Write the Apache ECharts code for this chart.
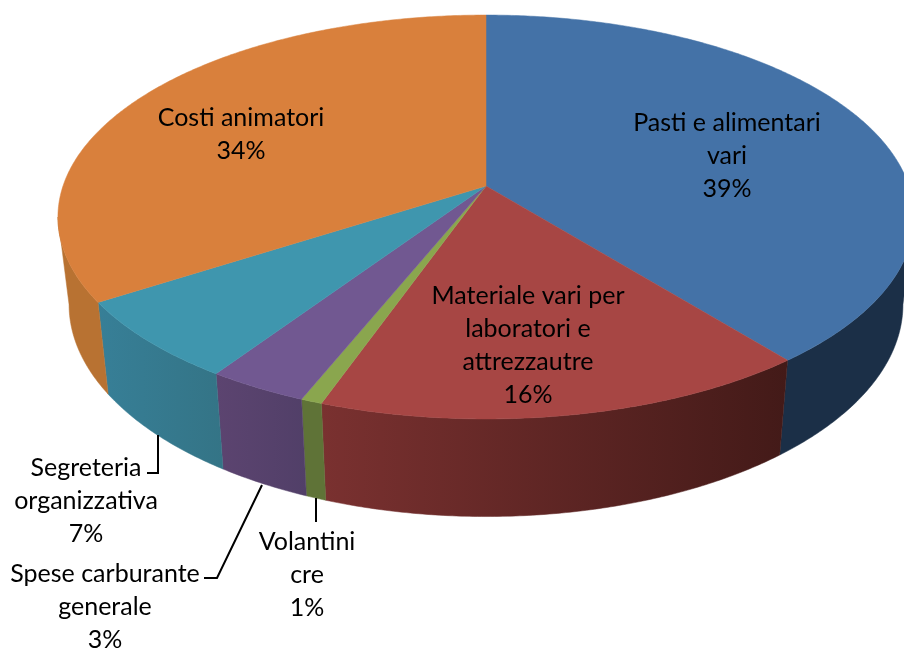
<!DOCTYPE html>
<html>
<head>
<meta charset="utf-8">
<title>Costi</title>
<style>
  html, body { margin: 0; padding: 0; background: #fff; }
  #chart { width: 904px; height: 648px; }
</style>
<script src="https://cdn.jsdelivr.net/npm/echarts@6/dist/echarts.min.js"></script>
</head>
<body>
<div id="chart"></div>
<script>
// clockwise from 12 o'clock
var categories = ['Pasti e alimentari\nvari', 'Materiale vari per\nlaboratori e\nattrezzautre', 'Volantini\ncre', 'Spese carburante\ngenerale', 'Segreteria\norganizzativa', 'Costi animatori'];
var values = [39.2, 16.2, 0.7, 3.3, 6.5, 34.1];

var topColors = ['#4472a7', '#a74644', '#8aa64e', '#715891', '#3f96ae', '#d9803c'];
var wallColors = [
  ['#1b2f47', '#1b2f47'],
  ['#7a3130', '#431a18'],
  ['#5f7337', '#5f7337'],
  ['#5c4470', '#513f68'],
  ['#377f97', '#347486'],
  ['#b87232', '#b87232']
];

var labelX = [727, 528, 307, 105, 86, 241];
var labelY = [156, 345, 574.5, 606.5, 500.5, 134.5];

var leaders = [
  [[158, 435], [158, 473], [147, 473]],
  [[262, 485], [217, 578], [204, 578]],
  [[316, 498], [316, 522]]
];

// perspective circle, the near side of the disc comes out bigger
var tilt = 0.1535;
var topFace = { cx: 486, cy: 186, a: 423, b: 197.2 };
var bottomFace = { cx: 486, cy: 272, a: 412, b: 207 };

function project(face, deg) {
  var rad = deg * Math.PI / 180;
  var X = Math.sin(rad);
  var Y = -Math.cos(rad);
  var w = 1 - tilt * Y;
  return [face.cx + face.a * X / w, face.cy + face.b * Y / w];
}

var total = values.reduce(function (s, v) { return s + v; }, 0);
var startAngles = [];
var acc = 0;
values.forEach(function (v) {
  startAngles.push(acc / total * 360);
  acc += v;
});

function arc(face, from, to) {
  var pts = [];
  var steps = Math.max(2, Math.ceil((to - from) * 2));
  for (var i = 0; i <= steps; i++) {
    pts.push(project(face, from + (to - from) * i / steps));
  }
  return pts;
}

// outline of the side is tangent to the discs here
var visibleFrom = 180 - Math.acos(tilt) * 180 / Math.PI;
var visibleTo = 180 + Math.acos(tilt) * 180 / Math.PI;

function renderWall(params, api) {
  var i = params.dataIndex;
  var from = Math.max(startAngles[i], visibleFrom);
  var to = Math.min(startAngles[i] + api.value(0) / total * 360, visibleTo);
  if (to <= from) {
    return null;
  }
  var pts = arc(topFace, from, to).concat(arc(bottomFace, from, to).reverse());
  var xs = pts.map(function (p) { return p[0]; });
  var fill = new echarts.graphic.LinearGradient(
    Math.min.apply(null, xs), 0, Math.max.apply(null, xs), 0,
    [{ offset: 0, color: wallColors[i][0] }, { offset: 1, color: wallColors[i][1] }],
    true
  );
  return {
    type: 'polygon',
    shape: { points: pts },
    style: { fill: fill, stroke: fill, lineWidth: 0.5 }
  };
}

function renderTop(params, api) {
  var i = params.dataIndex;
  var from = startAngles[i];
  var to = from + api.value(0) / total * 360;
  var pts = [[topFace.cx, topFace.cy]].concat(arc(topFace, from, to));
  return {
    type: 'polygon',
    shape: { points: pts },
    style: { fill: topColors[i], stroke: topColors[i], lineWidth: 0.5 }
  };
}

function renderLabel(params, api) {
  var i = params.dataIndex;
  return {
    type: 'text',
    style: {
      text: categories[i] + '\n' + Math.round(api.value(0)) + '%',
      x: labelX[i],
      y: labelY[i],
      align: 'center',
      verticalAlign: 'middle',
      fontFamily: 'Lato',
      fontSize: 25,
      lineHeight: 33,
      fill: '#000'
    }
  };
}

var chart = echarts.init(document.getElementById('chart'), null, { renderer: 'canvas' });

var seriesData = values.map(function (v, i) {
  return { name: categories[i], value: [v] };
});

chart.setOption({
  backgroundColor: '#fff',
  animation: false,
  graphic: leaders.map(function (pts) {
    return {
      type: 'polyline',
      z: 5,
      shape: { points: pts },
      style: { stroke: '#000', lineWidth: 2, fill: null }
    };
  }),
  series: [
    { type: 'custom', coordinateSystem: 'none', silent: true, z: 1, renderItem: renderWall, data: seriesData },
    { type: 'custom', coordinateSystem: 'none', silent: true, z: 2, renderItem: renderTop, data: seriesData },
    { type: 'custom', coordinateSystem: 'none', silent: true, z: 3, renderItem: renderLabel, data: seriesData }
  ]
});
</script>
</body>
</html>
